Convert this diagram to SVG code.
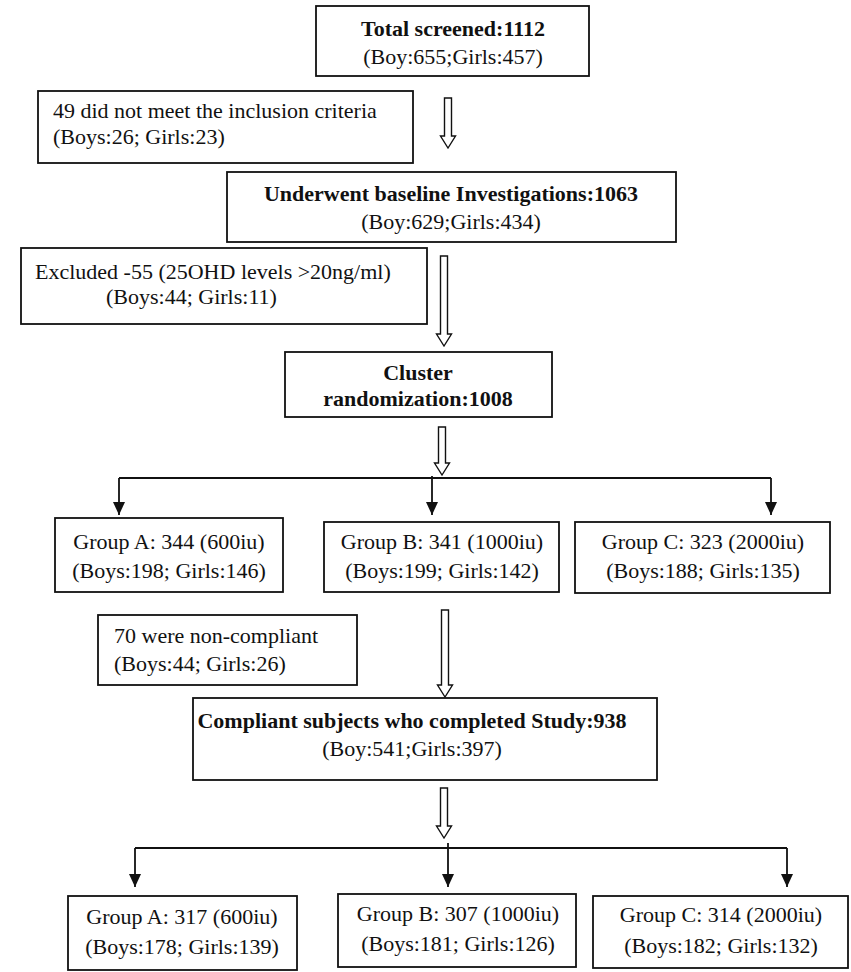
<svg xmlns="http://www.w3.org/2000/svg" width="851" height="972" viewBox="0 0 851 972">
<style>
.box{fill:#fff;stroke:#111;stroke-width:1.8}
.t{font-family:"Liberation Serif","Times New Roman",serif;font-size:22px;fill:#111}
.b{font-weight:bold}
.m{text-anchor:middle}
.ha{fill:#fff;stroke:#111;stroke-width:1.4}
.ln{fill:none;stroke:#111;stroke-width:1.8}
</style>
<defs>
<marker id="ah" markerUnits="userSpaceOnUse" markerWidth="14" markerHeight="12" refX="13" refY="6" orient="auto" viewBox="0 0 14 12">
<path d="M0,0 L13,6 L0,12 Z" fill="#111"/>
</marker>
</defs>
<rect width="851" height="972" fill="#fff"/>
<g id="n1"><rect class="box" x="316" y="6" width="273" height="70"/>
<text class="t b m" x="453" y="36">Total screened:1112</text>
<text class="t m" x="453" y="64">(Boy:655;Girls:457)</text></g>
<g id="n2"><rect class="box" x="38" y="91" width="375" height="72"/>
<text class="t" x="53" y="118">49 did not meet the inclusion criteria</text>
<text class="t" x="53" y="144">(Boys:26; Girls:23)</text></g>
<g id="n3"><rect class="box" x="227" y="172" width="449" height="70"/>
<text class="t b m" x="451" y="201">Underwent baseline Investigations:1063</text>
<text class="t m" x="451" y="229">(Boy:629;Girls:434)</text></g>
<g id="n4"><rect class="box" x="21" y="248" width="406" height="76"/>
<text class="t" x="35" y="279">Excluded -55 (25OHD levels &gt;20ng/ml)</text>
<text class="t" x="106" y="304">(Boys:44; Girls:11)</text></g>
<g id="n5"><rect class="box" x="285" y="352" width="267" height="65"/>
<text class="t b m" x="418" y="380">Cluster</text>
<text class="t b m" x="418" y="406">randomization:1008</text></g>
<g id="n6"><rect class="box" x="55" y="518" width="228" height="74"/>
<text class="t m" x="169" y="549">Group A: 344 (600iu)</text>
<text class="t m" x="169" y="578">(Boys:198; Girls:146)</text></g>
<g id="n7"><rect class="box" x="324" y="522" width="235" height="70"/>
<text class="t m" x="442" y="549">Group B: 341 (1000iu)</text>
<text class="t m" x="442" y="578">(Boys:199; Girls:142)</text></g>
<g id="n8"><rect class="box" x="575" y="522" width="255" height="71"/>
<text class="t m" x="703" y="549">Group C: 323 (2000iu)</text>
<text class="t m" x="703" y="578">(Boys:188; Girls:135)</text></g>
<g id="n9"><rect class="box" x="98" y="615" width="259" height="70"/>
<text class="t" x="114" y="643">70 were non-compliant</text>
<text class="t" x="114" y="671">(Boys:44; Girls:26)</text></g>
<g id="n10"><rect class="box" x="193" y="698" width="464" height="82"/>
<text class="t b m" x="412" y="728">Compliant subjects who completed Study:938</text>
<text class="t m" x="412" y="756">(Boy:541;Girls:397)</text></g>
<g id="n11"><rect class="box" x="68" y="896" width="229" height="74"/>
<text class="t m" x="182" y="924">Group A: 317 (600iu)</text>
<text class="t m" x="182" y="954">(Boys:178; Girls:139)</text></g>
<g id="n12"><rect class="box" x="338" y="894" width="238" height="73"/>
<text class="t m" x="458" y="921">Group B: 307 (1000iu)</text>
<text class="t m" x="458" y="951">(Boys:181; Girls:126)</text></g>
<g id="n13"><rect class="box" x="593" y="896" width="255" height="72"/>
<text class="t m" x="721" y="922">Group C: 314 (2000iu)</text>
<text class="t m" x="721" y="953">(Boys:182; Girls:132)</text></g>
<g id="connectors">
<path class="ha" d="M444.5,98 L451.5,98 L451.5,136 L455.5,136 L448,148 L440.5,136 L444.5,136 Z"/>
<path class="ha" d="M440.5,256 L447.5,256 L447.5,334 L451.5,334 L444,346 L436.5,334 L440.5,334 Z"/>
<path class="ha" d="M438.5,427 L445.5,427 L445.5,463 L449.5,463 L442,475 L434.5,463 L438.5,463 Z"/>
<path class="ha" d="M441.5,610 L448.5,610 L448.5,685 L452.5,685 L445,697 L437.5,685 L441.5,685 Z"/>
<path class="ha" d="M440.5,788 L447.5,788 L447.5,826 L451.5,826 L444,838 L436.5,826 L440.5,826 Z"/>
<path class="ln" d="M119,478 L771,478"/>
<path class="ln" d="M119,478 L119,515" marker-end="url(#ah)"/>
<path class="ln" d="M432,476 L432,515" marker-end="url(#ah)"/>
<path class="ln" d="M771,478 L771,515" marker-end="url(#ah)"/>
<path class="ln" d="M135,848 L787,848"/>
<path class="ln" d="M135,848 L135,887" marker-end="url(#ah)"/>
<path class="ln" d="M448,843 L448,887" marker-end="url(#ah)"/>
<path class="ln" d="M787,848 L787,887" marker-end="url(#ah)"/>
</g>
</svg>
